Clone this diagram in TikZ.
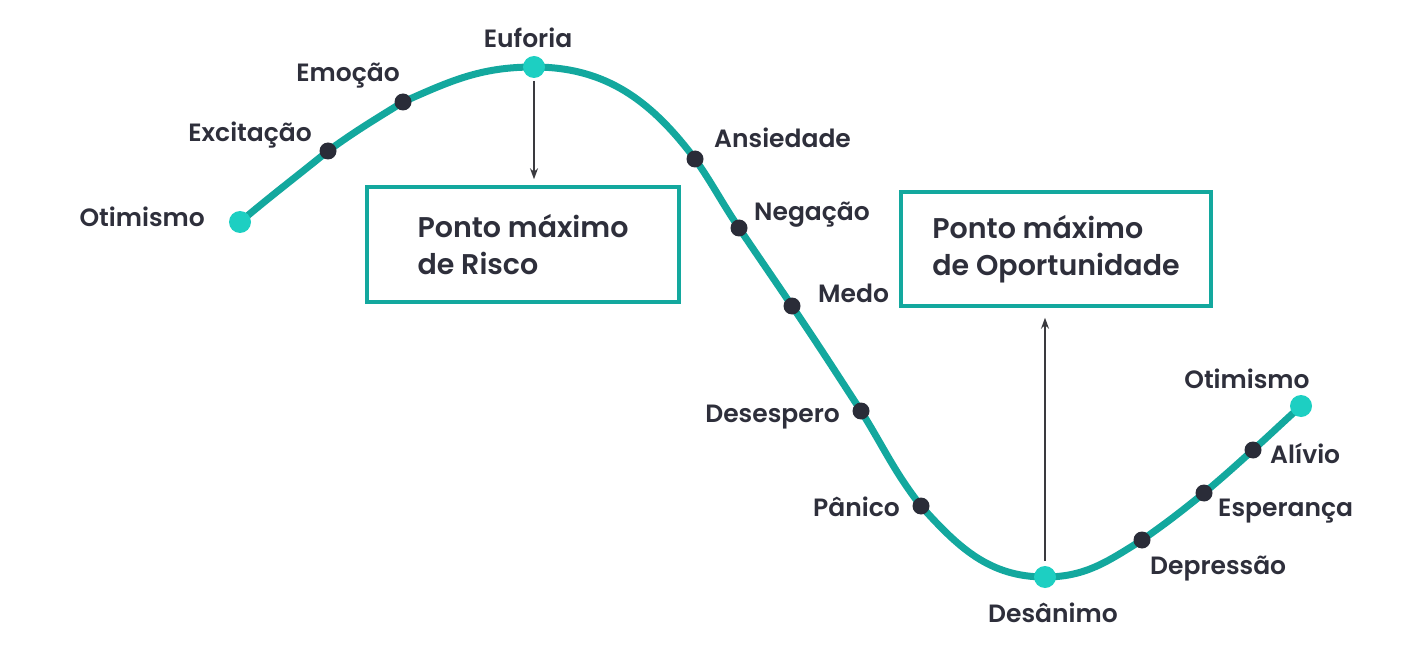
\documentclass[tikz,border=0pt]{standalone}
\usepackage{fontspec}
\setmainfont{Poppins}[UprightFont={* SemiBold}, BoldFont={* Bold}]
\usetikzlibrary{arrows.meta}
\definecolor{teal1}{HTML}{13A89E}
\definecolor{cyan1}{HTML}{1DCFC2}
\definecolor{dark1}{HTML}{2A2C38}
\definecolor{txt}{HTML}{2E2F3B}
\definecolor{arr}{HTML}{3A3A3F}
\tikzset{
  curve/.style={draw=teal1, line width=7pt, line cap=round},
  bigdot/.style={circle, fill=cyan1, inner sep=0pt, minimum size=22pt},
  smalldot/.style={circle, fill=dark1, inner sep=0pt, minimum size=17pt},
  lbl/.style={text=txt, font=\fontsize{25}{30}\selectfont, inner sep=0pt},
  boxnode/.style={draw=teal1, line width=3.5pt, text=txt, align=left,
    font=\fontsize{28.5}{37}\selectfont, inner sep=0pt},
  arrowline/.style={draw=arr, line width=1.4pt, -{Stealth[length=11pt,width=8pt]}}
}
\begin{document}
\begin{tikzpicture}[x=1pt,y=1pt]
\useasboundingbox (0,0) rectangle (1418,-652);
% points on curve
\coordinate (p1) at (240,-222);
\coordinate (p2) at (328,-151);
\coordinate (p3) at (403,-102);
\coordinate (p4) at (534,-67);
\coordinate (p5) at (695,-159);
\coordinate (p6) at (739,-228);
\coordinate (p7) at (792,-306);
\coordinate (p8) at (861,-411);
\coordinate (p9) at (921,-506);
\coordinate (p10) at (1045,-577);
\coordinate (p11) at (1142,-540);
\coordinate (p12) at (1204,-493);
\coordinate (p13) at (1253,-450);
\coordinate (p14) at (1301,-406);
\draw[curve] (p1) to[out=40,in=219] (p2) to[out=36,in=212] (p3)
  to[out=24,in=180] (p4) to[out=0,in=127] (p5) to[out=-55,in=124] (p6)
  to[out=-56,in=124] (p7) to[out=-56,in=123] (p8) to[out=-58,in=128] (p9)
  to[out=-48,in=180] (p10) to[out=0,in=212] (p11) to[out=35,in=219] (p12)
  to[out=40,in=222] (p13) to[out=42,in=222] (p14);
% dots
\node[bigdot] (d1) at (p1) {};
\node[smalldot] (d2) at (p2) {};
\node[smalldot] (d3) at (p3) {};
\node[bigdot] (d4) at (p4) {};
\node[smalldot] (d5) at (p5) {};
\node[smalldot] (d6) at (p6) {};
\node[smalldot] (d7) at (p7) {};
\node[smalldot] (d8) at (p8) {};
\node[smalldot] (d9) at (p9) {};
\node[bigdot] (d10) at (p10) {};
\node[smalldot] (d11) at (p11) {};
\node[smalldot] (d12) at (p12) {};
\node[smalldot] (d13) at (p13) {};
\node[bigdot] (d14) at (p14) {};
% labels
\node[lbl, anchor=base east] (l1) at (205,-227) {Otimismo};
\node[lbl, anchor=base east] (l2) at (312,-142) {Excitação};
\node[lbl, anchor=base] (l3) at (348,-82) {Emoção};
\node[lbl, anchor=base] (l4) at (528,-48) {Euforia};
\node[lbl, anchor=base west] (l5) at (714,-148) {Ansiedade};
\node[lbl, anchor=base west] (l6) at (754,-221) {Negação};
\node[lbl, anchor=base west] (l7) at (818,-302) {Medo};
\node[lbl, anchor=base east] (l8) at (840,-422) {Desespero};
\node[lbl, anchor=base east] (l9) at (900,-516) {Pânico};
\node[lbl, anchor=base] (l10) at (1053,-622) {Desânimo};
\node[lbl, anchor=base west] (l11) at (1150,-574) {Depressão};
\node[lbl, anchor=base west] (l12) at (1218,-516) {Esperança};
\node[lbl, anchor=base west] (l13) at (1270,-463) {Alívio};
\node[lbl, anchor=base] (l14) at (1247,-388) {Otimismo};
% boxes
\node[boxnode, minimum width=312pt, minimum height=115pt] (b1) at (523,-244.5)
  {Ponto máximo\\de Risco};
\node[boxnode, minimum width=310pt, minimum height=114pt] (b2) at (1056,-249)
  {Ponto máximo\\de Oportunidade};
% arrows
\draw[arrowline, shorten <=14pt, shorten >=6pt] (d4.center) -- (d4.center |- b1.north);
\draw[arrowline, shorten <=16pt, shorten >=10pt] (d10.center) -- (d10.center |- b2.south);
\end{tikzpicture}
\end{document}
